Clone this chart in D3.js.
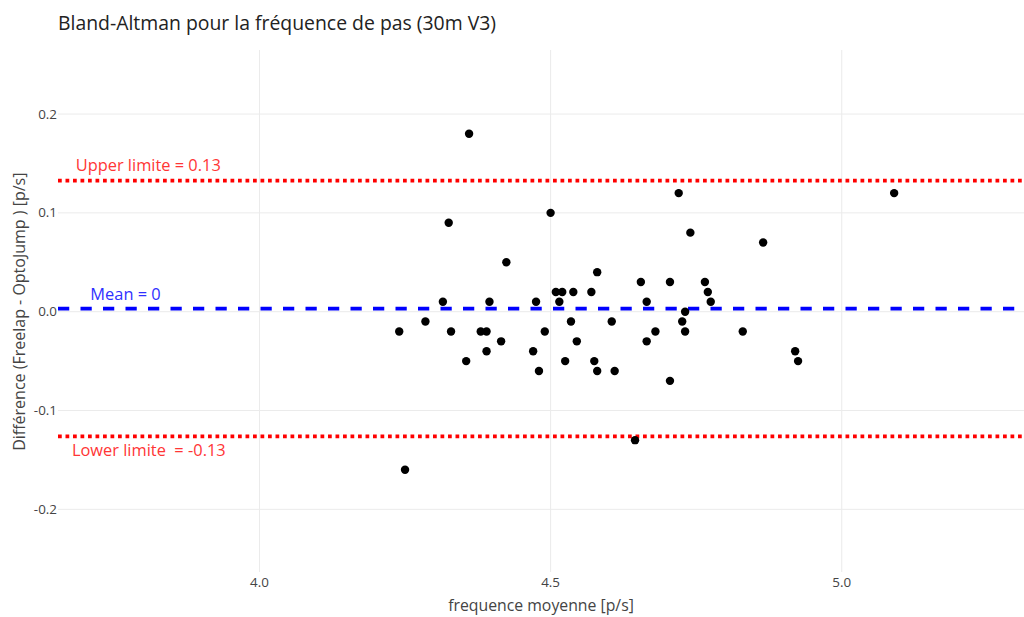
<html>
<head>
<title>Bland-Altman</title>
<script src="https://d3js.org/d3.v7.min.js"></script>
<style>
body { margin: 0; background: #fff; font-family: 'Open Sans', verdana, arial, sans-serif; }
</style>
</head>
<body>
<div id="plot"></div>

<script>

var width = 1024;
var height = 617;
var margin = { top: 50, right: 0, bottom: 45, left: 58 };

// mean frequency (x) and Freelap - OptoJump difference (y)
var meanFreq = [4.240, 4.250, 4.285, 4.315, 4.325, 4.329, 4.355, 4.360, 4.380, 4.390,
	4.390, 4.395, 4.415, 4.424, 4.470, 4.475, 4.480, 4.490, 4.500, 4.509,
	4.515, 4.520, 4.525, 4.535, 4.539, 4.545, 4.570, 4.575, 4.580, 4.580,
	4.605, 4.610, 4.645, 4.655, 4.665, 4.665, 4.680, 4.705, 4.705, 4.720,
	4.726, 4.731, 4.731, 4.740, 4.765, 4.770, 4.775, 4.830, 4.865, 4.920,
	4.925, 5.090];
var diffs = [-0.02, -0.16, -0.01, 0.01, 0.09, -0.02, -0.05, 0.18, -0.02, -0.02,
	-0.04, 0.01, -0.03, 0.05, -0.04, 0.01, -0.06, -0.02, 0.10, 0.02,
	0.01, 0.02, -0.05, -0.01, 0.02, -0.03, 0.02, -0.05, 0.04, -0.06,
	-0.01, -0.06, -0.13, 0.03, 0.01, -0.03, -0.02, 0.03, -0.07, 0.12,
	-0.01, 0.00, -0.02, 0.08, 0.03, 0.02, 0.01, -0.02, 0.07, -0.04,
	-0.05, 0.12];

var meanDiff = 0.003;
var upperLimit = 0.1325;
var lowerLimit = -0.1262;

var xTicks = [4.0, 4.5, 5.0];
var yTicks = [-0.2, -0.1, 0, 0.1, 0.2];
var xTickLabels = ["4.0", "4.5", "5.0"];
var yTickLabels = ["-0.2", "-0.1", "0.0", "0.1", "0.2"];

var xDomain = [3.654, 5.313];
var yDomain = [-0.2634, 0.2648];

var refLines = [
	{ value: upperLimit, color: "red", dash: "dot" },
	{ value: lowerLimit, color: "red", dash: "dot" },
	{ value: meanDiff, color: "blue", dash: "dash" }
];

var labels = [
	{ text: "Upper limite = 0.13", x: 3.809, y: upperLimit, dy: -10, color: "#ff3535" },
	{ text: "Mean = 0", x: 3.770, y: meanDiff, dy: -8.5, color: "#2f2fff" },
	{ text: "Lower limite  = -0.13", x: 3.810, y: lowerLimit, dy: 20, color: "#ff3535" }
];

var svg = d3.select("#plot").append("svg").attr("width", width).attr("height", height);

var xScale = d3.scaleLinear().domain(xDomain).range([margin.left, width - margin.right]);
var yScale = d3.scaleLinear().domain(yDomain).range([height - margin.bottom, margin.top]);

// grid
svg.append("g").selectAll("line").data(xTicks)
.enter().append("line")
.attr("x1", d => xScale(d)).attr("x2", d => xScale(d))
.attr("y1", margin.top).attr("y2", height - margin.bottom)
.style("stroke", "#ebebeb").style("stroke-width", 1);

svg.append("g").selectAll("line").data(yTicks)
.enter().append("line")
.attr("x1", margin.left).attr("x2", width - margin.right)
.attr("y1", d => yScale(d)).attr("y2", d => yScale(d))
.style("stroke", "#ebebeb").style("stroke-width", 1);

// tick labels
svg.append("g").selectAll("text").data(xTicks)
.enter().append("text")
.attr("x", d => xScale(d))
.attr("y", height - margin.bottom + 15)
.attr("text-anchor", "middle")
.style("font-size", "13.4px").style("fill", "#444")
.text((d, i) => xTickLabels[i]);

svg.append("g").selectAll("text").data(yTicks)
.enter().append("text")
.attr("x", margin.left - 1)
.attr("y", d => yScale(d) + 4.5)
.attr("text-anchor", "end")
.style("font-size", "13.4px").style("fill", "#444")
.text((d, i) => yTickLabels[i]);

// reference lines
svg.append("g").selectAll("line").data(refLines)
.enter().append("line")
.attr("x1", margin.left).attr("x2", width - margin.right)
.attr("y1", d => yScale(d.value)).attr("y2", d => yScale(d.value))
.style("stroke", d => d.color)
.style("stroke-width", 3.75)
.style("stroke-dasharray", d => d.dash == "dot" ? "3.75,3.75" : "11.25,11.25");

svg.append("g").selectAll("text").data(labels)
.enter().append("text")
.attr("x", d => xScale(d.x))
.attr("y", d => yScale(d.y) + d.dy)
.attr("text-anchor", "middle")
.style("font-size", "16.4px")
.style("fill", d => d.color)
.style("white-space", "pre")
.text(d => d.text);

// points
svg.append("g").selectAll("circle").data(meanFreq)
.enter().append("circle")
.attr("cx", d => xScale(d))
.attr("cy", (d, i) => yScale(diffs[i]))
.attr("r", 4.2)
.style("fill", "black");

// titles
svg.append("text")
.attr("x", 58).attr("y", 30)
.style("font-size", "19.4px").style("fill", "#222")
.text("Bland-Altman pour la fréquence de pas (30m V3)");

svg.append("text")
.attr("x", (margin.left + width - margin.right) / 2)
.attr("y", 611)
.attr("text-anchor", "middle")
.style("font-size", "15.8px").style("fill", "#444")
.text("frequence moyenne [p/s]");

svg.append("text")
.attr("transform", "translate(24.5," + yScale(0) + ") rotate(-90)")
.attr("text-anchor", "middle")
.style("font-size", "16px").style("fill", "#444")
.text("Différence (Freelap - OptoJump ) [p/s]");

</script>
</body>
</html>
